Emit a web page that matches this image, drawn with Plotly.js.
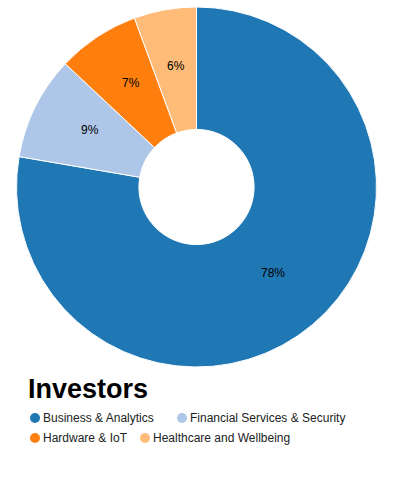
<!DOCTYPE html>
<html>
<head>
<meta charset="utf-8">
<script src="https://cdn.plot.ly/plotly-3.0.1.min.js"></script>
<style>
  html, body { margin: 0; padding: 0; background: #fff; }
  #chart { width: 393px; height: 487px; }
</style>
</head>
<body>
<div id="chart"></div>
<script>
const categories = ["Business & Analytics", "Financial Services & Security", "Hardware & IoT", "Healthcare and Wellbeing"];
const values = [777, 93, 74, 56];
const colors = ["#1f77b4", "#aec7e8", "#ff7f0e", "#ffbb78"];
const chartTitle = "Investors";

const W = 393, H = 487;
const px = x => x / W;
const py = y => (H - y) / H;
const FONT = "Arial, 'Liberation Sans', sans-serif";

// pie geometry (pixels)
const cx = 196.5, cy = 187, R = 180, holeFrac = 0.32;

// legend item positions (pixel, circle centre)
const legendPos = [[35, 418], [182, 418], [35, 438], [145, 438]];

const shapes = categories.map((c, i) => ({
  type: "circle", xref: "paper", yref: "paper",
  xsizemode: "pixel", ysizemode: "pixel",
  xanchor: px(legendPos[i][0]), yanchor: py(legendPos[i][1]),
  x0: -5, x1: 5, y0: -5, y1: 5,
  fillcolor: colors[i], line: { width: 0 }
}));

const annotations = categories.map((c, i) => ({
  xref: "paper", yref: "paper",
  x: px(legendPos[i][0] + 6), y: py(legendPos[i][1]),
  xanchor: "left", yanchor: "middle",
  text: c, showarrow: false,
  font: { family: FONT, size: 12, color: "#222" }
}));

// percent labels at the ring centroid of each slice, derived from the data
const total = values.reduce((a, b) => a + b, 0);
let acc = 0;
const rMid = R * (1 + holeFrac) / 2;
values.forEach((v, i) => {
  const a0 = acc / total * 2 * Math.PI;
  acc += v;
  const a1 = acc / total * 2 * Math.PI;
  const am = (a0 + a1) / 2;
  const lx = cx + rMid * Math.sin(am);
  const ly = cy - rMid * Math.cos(am);
  annotations.push({
    xref: "paper", yref: "paper",
    x: px(lx), y: py(ly - 4.5),
    xanchor: "center", yanchor: "middle",
    text: Math.round(v / total * 100) + "%", showarrow: false,
    font: { family: FONT, size: 12, color: "#000" }
  });
});

annotations.push({
  xref: "paper", yref: "paper",
  x: px(26), y: py(389),
  xanchor: "left", yanchor: "middle",
  text: "<b>" + chartTitle + "</b>", showarrow: false,
  font: { family: FONT, size: 27, color: "#000" }
});

const data = [{
  type: "pie",
  labels: categories,
  values: values,
  hole: holeFrac,
  sort: false,
  direction: "clockwise",
  rotation: 0,
  marker: { colors: colors, line: { color: "#fff", width: 1 } },
  textinfo: "none",
  domain: { x: [px(cx - R), px(cx + R)], y: [py(cy + R), py(cy - R)] },
  showlegend: false,
  hoverinfo: "none"
}];

const layout = {
  width: W, height: H,
  margin: { l: 0, r: 0, t: 0, b: 0 },
  paper_bgcolor: "#fff",
  showlegend: false,
  shapes: shapes,
  annotations: annotations
};

Plotly.newPlot("chart", data, layout, { displayModeBar: false, staticPlot: true });
</script>
</body>
</html>
